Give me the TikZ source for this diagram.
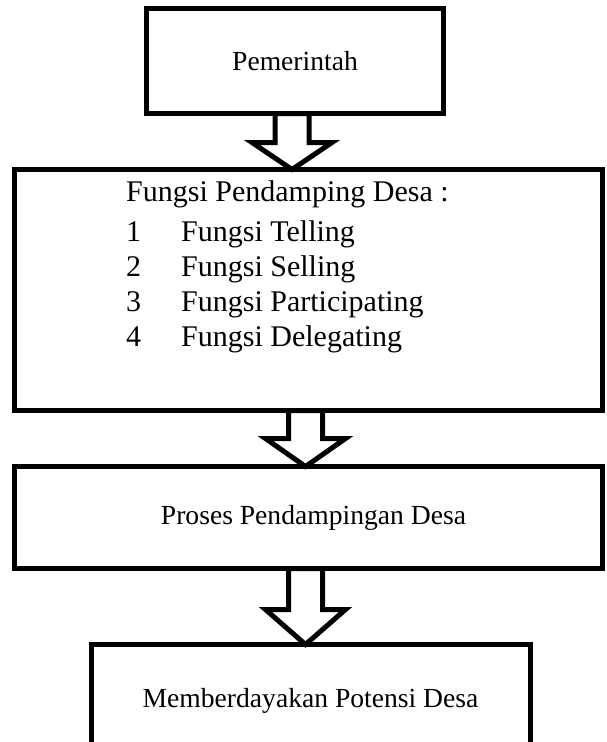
\documentclass[tikz,border=0pt]{standalone}
\usepackage{fontspec}
\setmainfont{Liberation Serif}
\usetikzlibrary{calc}
\tikzset{
    boxnode/.style = {rectangle, line width=5pt, draw=black, outer sep=0pt, inner sep=0pt, align=center, font=\fontsize{27.6}{33}\selectfont},
    listnode/.style = {inner sep=0pt, anchor=base west, font=\fontsize{30}{35}\selectfont},
    fatarr/.style = {line width=5pt, draw=black, line join=miter}
}
% block arrow: from node, to node, head length
\newcommand{\fatarrow}[3]{%
  \coordinate (top) at ($(#1.south)+(-3,0)$);
  \coordinate (tip) at (top |- #2.north);
  \draw[fatarr] ($(top)+(-17,0)$) -- ($(tip)+(-17,-#3)$) -- ($(tip)+(-40,-#3)$) -- (tip)
    -- ($(tip)+(40,-#3)$) -- ($(tip)+(17,-#3)$) -- ($(top)+(17,0)$) -- cycle;
}
\begin{document}
\begin{tikzpicture}[x=1pt, y=-1pt]
  \useasboundingbox (0,0) rectangle (607,742);
  \node[boxnode, minimum width=297pt, minimum height=105pt] (pemerintah) at (295,61) {Pemerintah};
  \node[boxnode, minimum width=588pt, minimum height=241pt] (fungsi) at (308.5,290) {};
  \node[listnode] (fungsilist) at (126,201) {%
    \begin{tabular}[t]{@{}p{55pt}@{}l@{}}
      \multicolumn{2}{@{}l@{}}{Fungsi Pendamping Desa :}\\[5pt]
      1 & Fungsi Telling\\
      2 & Fungsi Selling\\
      3 & Fungsi Participating\\
      4 & Fungsi Delegating
    \end{tabular}};
  \node[boxnode, minimum width=588pt, minimum height=102pt] (proses) at (308.5,517.5) {\hspace*{10pt}Proses Pendampingan Desa};
  \node[boxnode, minimum width=439pt, minimum height=113.5pt] (potensi) at (310.5,701.25) {Memberdayakan Potensi Desa};

  \fatarrow{pemerintah}{fungsi}{27}
  \fatarrow{fungsi}{proses}{28}
  \fatarrow{proses}{potensi}{35}
\end{tikzpicture}
\end{document}
